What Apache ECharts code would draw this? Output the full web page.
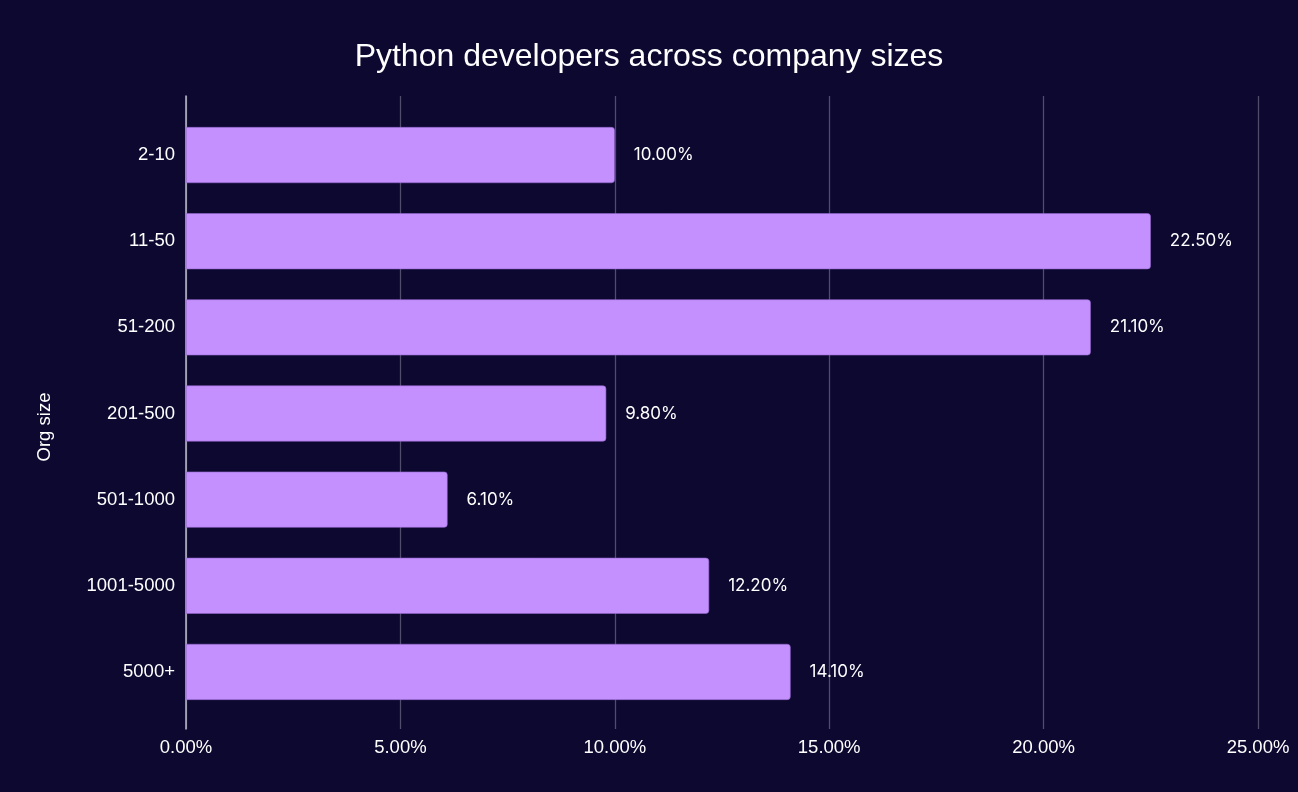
<!DOCTYPE html>
<html lang="en">
<head>
    <meta charset="UTF-8">
    <title>Python developers across company sizes</title>
    <script src="https://cdn.jsdelivr.net/npm/echarts@6/dist/echarts.min.js"></script>
    <style>
        html, body { margin: 0; padding: 0; background: #0c0830; }
        #chart { width: 1298px; height: 792px; }
    </style>
</head>
<body>
<div id="chart"></div>
<script>
    // data
    var orgSizes = ['2-10', '11-50', '51-200', '201-500', '501-1000', '1001-5000', '5000+'];
    var shares = [10.0, 22.5, 21.1, 9.8, 6.1, 12.2, 14.1];
    var xTicks = [0, 5, 10, 15, 20, 25];

    var chart = echarts.init(document.getElementById('chart'));

    var option = {
        backgroundColor: '#0c0830',
        animation: false,
        title: {
            text: 'Python developers across company sizes',
            left: 'center',
            top: 36,
            textStyle: { color: '#ffffff', fontSize: 32, fontWeight: 'normal', fontFamily: 'Liberation Sans, Arial' }
        },
        // axis title, placed by hand a little below the middle like the original
        graphic: [{
            type: 'text',
            x: 45,
            y: 427,
            rotation: Math.PI / 2,
            style: {
                text: 'Org size',
                fill: '#ffffff',
                font: '18.5px "Liberation Sans", Arial',
                align: 'center',
                verticalAlign: 'middle'
            }
        }],
        grid: [
            // frame: split lines + x labels
            { left: 186, right: 40, top: 96, bottom: 63 },
            // bars
            { left: 186, right: 40, top: 112, bottom: 77 }
        ],
        xAxis: [
            {
                gridIndex: 0,
                type: 'value',
                min: xTicks[0],
                max: xTicks[xTicks.length - 1],
                interval: 5,
                axisLine: { show: false },
                axisTick: { show: false },
                splitLine: { lineStyle: { color: '#4f4c6c', width: 1.3 } },
                axisLabel: {
                    color: '#ffffff', fontSize: 18.5, margin: 9,
                    fontFamily: 'Liberation Sans, Arial',
                    formatter: function (v) { return v.toFixed(2) + '%'; }
                }
            },
            {
                gridIndex: 1,
                type: 'value',
                min: xTicks[0],
                max: xTicks[xTicks.length - 1],
                show: false
            }
        ],
        yAxis: [
            {
                gridIndex: 0,
                type: 'category',
                data: orgSizes,
                inverse: true,
                axisLine: { show: true, lineStyle: { color: '#bdbbc8', width: 1.5 } },
                axisTick: { show: false },
                axisLabel: { show: false }
            },
            {
                gridIndex: 1,
                type: 'category',
                data: orgSizes,
                inverse: true,
                axisLine: { show: false },
                axisTick: { show: false },
                axisLabel: { color: '#ffffff', fontSize: 18.5, margin: 11, fontFamily: 'Liberation Sans, Arial' }
            }
        ],
        series: [{
            type: 'bar',
            xAxisIndex: 1,
            yAxisIndex: 1,
            data: shares,
            barWidth: 56,
            itemStyle: {
                color: '#c490fe',
                borderColor: '#9466cc',
                borderWidth: 0.6,
                borderRadius: [0, 3, 3, 0]
            },
            label: {
                show: true,
                position: 'right',
                distance: 19,
                color: '#ffffff',
                fontSize: 17,
                fontFamily: 'Inter, Roboto',
                formatter: function (p) { return p.value.toFixed(2) + '%'; }
            }
        }]
    };

    chart.setOption(option);
</script>
</body>
</html>
